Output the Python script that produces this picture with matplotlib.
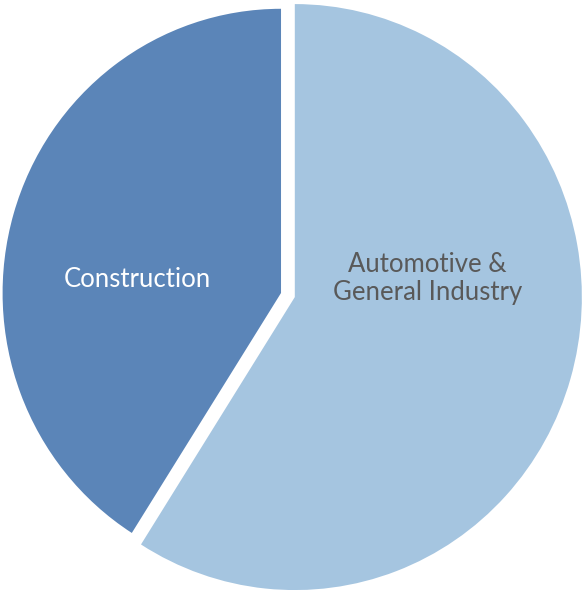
import matplotlib.pyplot as plt

labels = ['Automotive &\nGeneral Industry', 'Construction']
shares = [59, 41]
colors = ['#a5c5e0', '#5b85b8']
text_colors = ['#595959', 'white']
label_pos = [(0.509, 0.05), (-0.502, 0.045)]

fig = plt.figure(figsize=(5.83, 5.90), dpi=100)
ax = fig.add_axes([0, 0, 1, 1])

wedges, _ = ax.pie(shares, colors=colors, startangle=90, counterclock=False,
                   explode=[0.05, 0], wedgeprops={'linewidth': 0})
# the construction slice is drawn a touch smaller in the original
wedges[1].set_radius(0.97)

for (x, y), lab, c in zip(label_pos, labels, text_colors):
    ax.text(x, y, lab, ha='center', va='center', color=c,
            fontsize=18.5, family='Lato', linespacing=1.15)

# original picture is slightly stretched vertically
ax.set_aspect('auto')
ax.set_xlim(-0.979, 1.052)
ax.set_ylim(-1.0137, 1.0)
ax.axis('off')

fig.savefig('out.png', dpi=100)
